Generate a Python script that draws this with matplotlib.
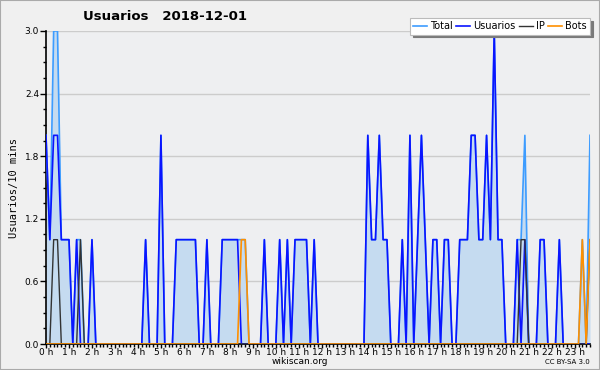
import matplotlib
matplotlib.use("Agg")
import matplotlib.pyplot as plt
import numpy as np
from matplotlib.ticker import MultipleLocator

# 10-minute slots, rows = hours
usuarios = [
    2, 1, 2, 2, 1, 1,
    1, 0, 1, 0, 0, 0,
    1, 0, 0, 0, 0, 0,
    0, 0, 0, 0, 0, 0,
    0, 0, 1, 0, 0, 0,
    2, 0, 0, 0, 1, 1,
    1, 1, 1, 1, 0, 0,
    1, 0, 0, 0, 1, 1,
    1, 1, 1, 0, 0, 0,
    0, 0, 0, 1, 0, 0,
    0, 1, 0, 1, 0, 1,
    1, 1, 1, 0, 1, 0,
    0, 0, 0, 0, 0, 0,
    0, 0, 0, 0, 0, 0,
    2, 1, 1, 2, 1, 1,
    0, 0, 0, 1, 0, 2,
    0, 1, 2, 1, 0, 1,
    1, 0, 1, 1, 0, 0,
    1, 1, 1, 2, 2, 1,
    1, 2, 1, 3, 1, 1,
    0, 0, 0, 1, 0, 1,
    0, 0, 0, 1, 1, 0,
    0, 0, 1, 0, 0, 0,
    0, 0, 0, 0, 0,
]
ip = [
    0, 0, 1, 1, 0, 0,
    0, 0, 0, 1, 0, 0,
    0, 0, 0, 0, 0, 0,
    0, 0, 0, 0, 0, 0,
    0, 0, 0, 0, 0, 0,
    0, 0, 0, 0, 0, 0,
    0, 0, 0, 0, 0, 0,
    0, 0, 0, 0, 0, 0,
    0, 0, 0, 0, 0, 0,
    0, 0, 0, 0, 0, 0,
    0, 0, 0, 0, 0, 0,
    0, 0, 0, 0, 0, 0,
    0, 0, 0, 0, 0, 0,
    0, 0, 0, 0, 0, 0,
    0, 0, 0, 0, 0, 0,
    0, 0, 0, 0, 0, 0,
    0, 0, 0, 0, 0, 0,
    0, 0, 0, 0, 0, 0,
    0, 0, 0, 0, 0, 0,
    0, 0, 0, 0, 0, 0,
    0, 0, 0, 0, 1, 1,
    0, 0, 0, 0, 0, 0,
    0, 0, 0, 0, 0, 0,
    0, 0, 0, 0, 1,
]
bots = [
    0, 0, 0, 0, 0, 0,
    0, 0, 0, 0, 0, 0,
    0, 0, 0, 0, 0, 0,
    0, 0, 0, 0, 0, 0,
    0, 0, 0, 0, 0, 0,
    0, 0, 0, 0, 0, 0,
    0, 0, 0, 0, 0, 0,
    0, 0, 0, 0, 0, 0,
    0, 0, 0, 1, 1, 0,
    0, 0, 0, 0, 0, 0,
    0, 0, 0, 0, 0, 0,
    0, 0, 0, 0, 0, 0,
    0, 0, 0, 0, 0, 0,
    0, 0, 0, 0, 0, 0,
    0, 0, 0, 0, 0, 0,
    0, 0, 0, 0, 0, 0,
    0, 0, 0, 0, 0, 0,
    0, 0, 0, 0, 0, 0,
    0, 0, 0, 0, 0, 0,
    0, 0, 0, 0, 0, 0,
    0, 0, 0, 0, 0, 0,
    0, 0, 0, 0, 0, 0,
    0, 0, 0, 0, 0, 0,
    0, 0, 1, 0, 1,
]
total = [
    2, 1, 3, 3, 1, 1,
    1, 0, 1, 1, 0, 0,
    1, 0, 0, 0, 0, 0,
    0, 0, 0, 0, 0, 0,
    0, 0, 1, 0, 0, 0,
    2, 0, 0, 0, 1, 1,
    1, 1, 1, 1, 0, 0,
    1, 0, 0, 0, 1, 1,
    1, 1, 1, 1, 1, 0,
    0, 0, 0, 1, 0, 0,
    0, 1, 0, 1, 0, 1,
    1, 1, 1, 0, 1, 0,
    0, 0, 0, 0, 0, 0,
    0, 0, 0, 0, 0, 0,
    2, 1, 1, 2, 1, 1,
    0, 0, 0, 1, 0, 2,
    0, 1, 2, 1, 0, 1,
    1, 0, 1, 1, 0, 0,
    1, 1, 1, 2, 2, 1,
    1, 2, 1, 3, 1, 1,
    0, 0, 0, 1, 1, 2,
    0, 0, 0, 1, 1, 0,
    0, 0, 1, 0, 0, 0,
    0, 0, 1, 0, 2,
]
hour_labels = [f"{h} h" for h in range(24)]
y_ticks = [0.0, 0.6, 1.2, 1.8, 2.4, 3.0]

x = np.arange(len(usuarios))

fig = plt.figure(figsize=(6.0, 3.7), dpi=100, facecolor="#f0f0f0")
ax = fig.add_axes([46/600, 26/370, 544/600, 313/370])
ax.set_facecolor("#eeeff1")

ax.fill_between(x, 0, total, color="#c5dbf0", lw=0, zorder=2)
ax.plot(x, total, color="#3d9cff", lw=1.2, label="Total", zorder=3)
ax.plot(x, usuarios, color="#0a14ff", lw=1.2, label="Usuarios", zorder=4)
ax.plot(x, ip, color="#333333", lw=1.0, label="IP", zorder=5)
ax.plot(x, bots, color="#ff9000", lw=1.2, label="Bots", zorder=6)

ax.set_xlim(0, len(usuarios) - 1)
ax.set_ylim(0, 3.0)
ax.set_xticks(np.arange(0, 24) * 6)
ax.set_xticklabels(hour_labels)
ax.xaxis.set_minor_locator(MultipleLocator(1))
ax.set_yticks(y_ticks)
ax.set_yticklabels([f"{v:.1f}" for v in y_ticks])
ax.yaxis.set_minor_locator(MultipleLocator(0.15))

ax.tick_params(axis="x", which="major", direction="out", length=3, width=1,
               labelsize=6.5, colors="black", pad=0)
ax.tick_params(axis="y", which="major", direction="out", length=4, width=1,
               labelsize=6.5, colors="black", pad=1)
ax.tick_params(axis="both", which="minor", direction="out", length=2.5, width=1)
ax.grid(axis="y", which="major", color="#cccccc", lw=1, zorder=1)
ax.set_axisbelow(True)
for s in ["top", "right"]:
    ax.spines[s].set_visible(False)
ax.spines["left"].set_linewidth(1.2)
ax.spines["bottom"].set_linewidth(1.2)

ax.set_ylabel("Usuarios/10 mins", family="DejaVu Sans Mono", fontsize=7.5, labelpad=4)

leg = ax.legend(loc="upper right", bbox_to_anchor=(1.0, 1.042), ncol=4, fontsize=7,
                frameon=True, fancybox=False, shadow={"color": "#7a7a7a", "alpha": 1},
                handlelength=1.4, handletextpad=0.3, columnspacing=0.4,
                borderpad=0.35, borderaxespad=0)
leg.get_frame().set_edgecolor("#bbbbbb")
leg.get_frame().set_facecolor("white")
leg.get_frame().set_linewidth(0.8)

fig.text(83/600, 1 - 17/370, "Usuarios   2018-12-01", fontsize=9.5, fontweight="bold",
         ha="left", va="center")
fig.text(300/600, 1 - 362/370, "wikiscan.org", fontsize=6.5, ha="center", va="center")
fig.text(590/600, 1 - 362/370, "CC BY-SA 3.0", fontsize=5, ha="right", va="center")

fig.patches.append(plt.Rectangle((0, 0), 1, 1, transform=fig.transFigure, fill=False,
                                 edgecolor="#aaaaaa", lw=1.5))

fig.savefig("out.png", dpi=100, facecolor=fig.get_facecolor())
